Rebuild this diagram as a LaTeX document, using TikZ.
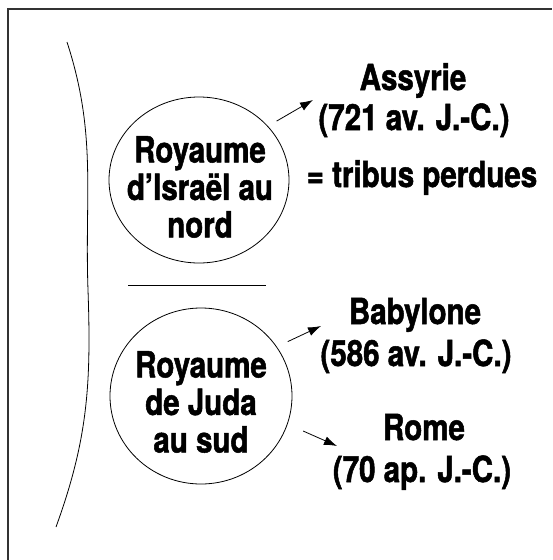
\documentclass[tikz,border=0pt]{standalone}
\usepackage{fontspec}
\setmainfont{TeX Gyre Heros}[FakeStretch=0.82, BoldFeatures={FakeBold=1.4}]
\usetikzlibrary{arrows.meta, positioning, shapes.geometric}

\tikzset{
  royaume/.style={ellipse, draw, line width=0.8pt, inner sep=0pt, align=center,
    font=\bfseries\fontsize{36}{37.5}\selectfont},
  exil/.style={anchor=base, inner sep=0pt, font=\bfseries\fontsize{36}{40}\selectfont},
  fleche/.style={-{Latex[length=13pt,width=9pt]}, line width=0.8pt},
}

\begin{document}
\begin{tikzpicture}[x=1pt, y=-1pt]
    \useasboundingbox (0,0) rectangle (552,560);

    % cadre
    \draw[line width=1.3pt, black!80] (8,560) -- (8,9) -- (552,9);

    % accolade
    \draw[line width=0.8pt] (67,42) to[out=-72,in=92] (88,290) to[out=-88,in=70] (56,527);

    % séparation
    \draw[line width=0.8pt] (128,285) -- (266,285);

    % royaumes
    \node[royaume, minimum width=180pt, minimum height=166pt] (israel) at (199,180) {};
    \node[align=center, font=\bfseries\fontsize{36}{37.5}\selectfont, inner sep=0pt]
        (israeltxt) at (200,187) {Royaume\\d’Israël au\\nord};
    \node[royaume, minimum width=182pt, minimum height=176pt] (juda) at (201,396) {};
    \node[align=center, font=\bfseries\fontsize{36}{37.5}\selectfont, inner sep=0pt]
        (judatxt) at (201,402) {Royaume\\de Juda\\au sud};

    % destinations
    \node[exil] (assyrie) at (413,90) {Assyrie};
    \node[exil] (d721) at (414,130) {(721 av. J.-C.)};
    \node[exil] (tribus) at (422,187) {= tribus perdues};
    \node[exil] (babylone) at (415,324) {Babylone};
    \node[exil] (d586) at (416,366) {(586 av. J.-C.)};
    \node[exil] (rome) at (424,440) {Rome};
    \node[exil] (d70) at (422,482) {(70 ap. J.-C.)};

    % flèches
    \coordinate (t1) at (313,100);
    \coordinate (t2) at (321,326);
    \coordinate (t3) at (337,446);
    \draw[fleche, shorten <=10pt] (israel.38) -- (t1);
    \draw[fleche, shorten <=12pt] (juda.33) -- (t2);
    \draw[fleche, shorten <=17pt] (juda.-18) -- (t3);
\end{tikzpicture}
\end{document}
